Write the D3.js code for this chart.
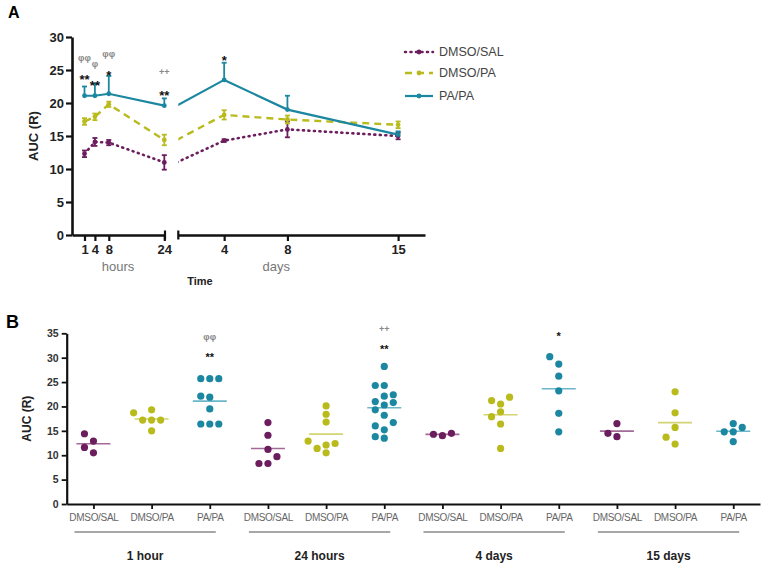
<!DOCTYPE html>
<html><head><meta charset="utf-8">
<script src="https://cdn.jsdelivr.net/npm/d3@7"></script>
<style>body{margin:0;background:#fff;} svg{display:block;font-family:Arial,"Liberation Sans",sans-serif;}</style>
</head><body><svg id="c" width="768" height="571"></svg>
<script>
// ---------- DATA ----------
const seriesNames = ["DMSO/SAL", "DMSO/PA", "PA/PA"];
const hoursPts = [1, 4, 8, 24];
const daysPts = [4, 8, 15];
const hourTickLabels = ["1", "4", "8", "24"];
const dayTickLabels = ["4", "8", "15"];
const yTicksA = [0, 5, 10, 15, 20, 25, 30];
const yTicksB = [0, 5, 10, 15, 20, 25, 30, 35];

// Panel A: mean and SEM per time point
const salHourMean = [12.3, 14.1, 14.0, 11.0];
const salHourSem  = [0.5, 0.6, 0.4, 1.1];
const salDayMean  = [14.3, 16.0, 15.0];
const salDaySem   = [0.2, 1.2, 0.5];
const paHourMean  = [17.2, 17.9, 19.8, 14.4];
const paHourSem   = [0.5, 0.5, 0.4, 0.8];
const paDayMean   = [18.2, 17.5, 16.7];
const paDaySem    = [0.7, 0.6, 0.5];
const papaHourMean = [21.1, 21.1, 21.4, 19.6];
const papaHourSem  = [1.4, 1.8, 2.7, 1.1];
const papaDayMean  = [23.5, 19.0, 15.2];
const papaDaySem   = [2.6, 2.1, 0.5];

// Panel A significance marks (segment, time, value, label, type)
const annotA = [
  ["h", 1, 26.9, "φφ", "phi"], ["h", 1, 24.4, "**", "star"],
  ["h", 4, 25.9, "φ", "phi"],  ["h", 4, 23.4, "**", "star"],
  ["h", 8, 27.5, "φφ", "phi"], ["h", 8, 25.0, "*", "star"],
  ["h", 24, 24.7, "++", "phi"], ["h", 24, 21.9, "**", "star"],
  ["d", 4, 27.3, "*", "star"]
];

// Panel B: individual values
const bCategories = ["DMSO/SAL", "DMSO/PA", "PA/PA", "DMSO/SAL", "DMSO/PA", "PA/PA",
                     "DMSO/SAL", "DMSO/PA", "PA/PA", "DMSO/SAL", "DMSO/PA", "PA/PA"];
const bGroups = ["1 hour", "24 hours", "4 days", "15 days"];
const bValues = [
  [14.4, 12.9, 11.6, 10.5],
  [18.7, 19.3, 17.2, 17.2, 17.2, 15.0],
  [25.7, 25.7, 25.7, 21.9, 22.1, 19.5, 16.4, 16.4, 16.4],
  [16.7, 14.1, 11.2, 9.7, 8.3, 8.3],
  [20.1, 18.4, 16.8, 12.9, 12.1, 12.4, 11.4, 10.5],
  [28.2, 24.3, 24.3, 22.4, 22.1, 21.0, 20.3, 20.8, 19.3, 18.2, 16.7, 16.0, 15.2, 13.5, 13.8],
  [14.5, 14.0, 14.3],
  [21.9, 21.2, 20.5, 18.9, 17.9, 16.4, 11.4],
  [30.2, 28.7, 26.2, 23.2, 18.6, 14.8],
  [16.5, 13.8, 14.5],
  [23.0, 18.7, 15.7, 13.7, 12.3],
  [16.5, 14.8, 14.8, 15.7, 12.8]
];
// Panel B significance marks (category index, value, label, type)
const annotB = [
  [2, 34.2, "φφ", "phi"], [2, 31.0, "**", "star"],
  [5, 35.9, "++", "phi"], [5, 32.5, "**", "star"],
  [8, 35.3, "*", "star"]
];

// ---------- STYLE ----------
const colors = ["#6b1d5e", "#b9bb1d", "#1c87a0"];
const lightColors = ["#a26a96", "#d3d472", "#6bb6c7"];
const dashes = ["1,4.5", "7,5", null];
const widths = [2.6, 2.4, 2.2];

const svg = d3.select("#c");

// ================= PANEL A =================
const yA = d3.scaleLinear().domain([0, 30]).range([235, 37]);
const xH = d3.scaleLinear().domain([-2.6, 24.2]).range([72, 165]);
const xD = d3.scaleLinear().domain([1.1, 16.7]).range([178.3, 425]);

svg.append("text").attr("x", 8).attr("y", 18).attr("font-size", 16).attr("font-weight", "bold").text("A");

const gA = svg.append("g");
// y axis
const yAxA = d3.axisLeft(yA).tickValues(yTicksA).tickSize(6).tickSizeOuter(0);
const gy = gA.append("g").attr("transform", `translate(${xH.range()[0]},0)`).call(yAxA);
gy.select(".domain").attr("stroke-width", 2.6).attr("stroke", "#111");
gy.selectAll(".tick line").attr("stroke-width", 2.2).attr("stroke", "#111");
gy.selectAll(".tick text").attr("font-size", 13).attr("font-weight", "bold").attr("fill", "#222").attr("font-family", "Arial, Liberation Sans").attr("x", -8);

// x axes (two segments)
function xSeg(scale, vals, labels) {
  const ax = d3.axisBottom(scale).tickValues(vals).tickFormat((d, i) => labels[i]).tickSize(6).tickSizeOuter(0);
  const g = gA.append("g").attr("transform", `translate(0,${yA(0)})`).call(ax);
  g.select(".domain").attr("stroke-width", 2.6).attr("stroke", "#111");
  g.selectAll(".tick line").attr("stroke-width", 2.2).attr("stroke", "#111");
  g.selectAll(".tick text").attr("font-size", 13).attr("font-weight", "bold").attr("fill", "#222").attr("font-family", "Arial, Liberation Sans").attr("dy", "0.8em");
  return g;
}
xSeg(xH, hoursPts, hourTickLabels);
xSeg(xD, daysPts, dayTickLabels);
// break caps
[[xH.range()[1]], [xD.range()[0]]].forEach(([x]) => {
  gA.append("line").attr("x1", x).attr("x2", x).attr("y1", yA(0) - 4.5).attr("y2", yA(0) + 4.5)
    .attr("stroke", "#111").attr("stroke-width", 2.2);
});

gA.append("text").attr("x", 118).attr("y", 271).attr("text-anchor", "middle")
  .attr("font-size", 13).attr("fill", "#777").text("hours");
gA.append("text").attr("x", xD(7.3)).attr("y", 271).attr("text-anchor", "middle")
  .attr("font-size", 13).attr("fill", "#777").text("days");
gA.append("text").attr("x", 200).attr("y", 285).attr("text-anchor", "middle")
  .attr("font-size", 11).attr("font-weight", "bold").attr("fill", "#222").text("Time");
gA.append("text").attr("transform", `translate(38,${yA(15)}) rotate(-90)`).attr("text-anchor", "middle")
  .attr("font-size", 13).attr("font-weight", "bold").attr("fill", "#222").text("AUC (R)");

const seriesA = [
  { hm: salHourMean, hs: salHourSem, dm: salDayMean, ds: salDaySem, up: false },
  { hm: paHourMean, hs: paHourSem, dm: paDayMean, ds: paDaySem, up: false },
  { hm: papaHourMean, hs: papaHourSem, dm: papaDayMean, ds: papaDaySem, up: true }
];

svg.append("defs").append("clipPath").attr("id", "clipD")
  .append("rect").attr("x", xD.range()[0]).attr("y", 0).attr("width", 300).attr("height", 300);

seriesA.forEach((s, si) => {
  const c = colors[si];
  const hPts = hoursPts.map((t, i) => ({ x: xH(t), v: s.hm[i], e: s.hs[i] }));
  // day segment continues from the 24 h (= day 1) value
  const dLine = [{ x: xD(1), v: s.hm[3] }].concat(daysPts.map((t, i) => ({ x: xD(t), v: s.dm[i], e: s.ds[i] })));
  const dPts = dLine.slice(1);
  const line = d3.line().x(d => d.x).y(d => yA(d.v));
  const g = gA.append("g");
  const styleLine = sel => sel.attr("fill", "none").attr("stroke", c).attr("stroke-width", widths[si])
    .attr("stroke-dasharray", dashes[si]).attr("stroke-linecap", si === 0 ? "round" : "butt");
  g.append("path").datum(hPts).attr("d", line).call(styleLine);
  g.append("path").datum(dLine).attr("d", line).attr("clip-path", "url(#clipD)").call(styleLine);
  const all = hPts.concat(dPts);
  // error bars
  all.forEach(d => {
    const top = yA(d.v + d.e), bot = s.up ? yA(d.v) : yA(d.v - d.e);
    g.append("line").attr("x1", d.x).attr("x2", d.x).attr("y1", top).attr("y2", bot).attr("stroke", c).attr("stroke-width", 1.8);
    g.append("line").attr("x1", d.x - 2.5).attr("x2", d.x + 2.5).attr("y1", top).attr("y2", top).attr("stroke", c).attr("stroke-width", 1.8);
    if (!s.up) g.append("line").attr("x1", d.x - 2.5).attr("x2", d.x + 2.5).attr("y1", bot).attr("y2", bot).attr("stroke", c).attr("stroke-width", 1.8);
  });
  g.selectAll("circle").data(all).join("circle").attr("cx", d => d.x).attr("cy", d => yA(d.v)).attr("r", 2.4).attr("fill", c);
});

annotA.forEach(([seg, t, v, lab, type]) => {
  const x = seg === "h" ? xH(t) : xD(t);
  gA.append("text").attr("x", x).attr("y", yA(v)).attr("dy", type === "star" ? "0.75em" : "0.35em")
    .attr("text-anchor", "middle").attr("font-size", type === "star" ? 13 : 9)
    .attr("font-weight", "bold").attr("fill", type === "star" ? "#111" : "#888").text(lab);
});

// legend
const legY = [52, 73, 96];
seriesNames.forEach((n, i) => {
  const g = svg.append("g").attr("transform", `translate(405,${legY[i]})`);
  g.append("line").attr("x1", 0).attr("x2", 28).attr("y1", 0).attr("y2", 0).attr("stroke", colors[i])
    .attr("stroke-width", widths[i]).attr("stroke-dasharray", dashes[i]).attr("stroke-linecap", i === 0 ? "round" : "butt");
  g.append("circle").attr("cx", 14).attr("cy", 0).attr("r", 2.4).attr("fill", colors[i]);
  g.append("text").attr("x", 34).attr("y", 0).attr("dy", "0.35em").attr("font-size", 12.5).attr("fill", "#444").text(n);
});

// ================= PANEL B =================
svg.append("text").attr("x", 6).attr("y", 328).attr("font-size", 18).attr("font-weight", "bold").text("B");

const yB = d3.scaleLinear().domain([0, 35]).range([504, 333.3]);
const xB = d3.scalePoint().domain(d3.range(bCategories.length)).range([66.7, 760]).padding(0.46);
const gB = svg.append("g");

const yAxB = d3.axisLeft(yB).tickValues(yTicksB).tickSize(5).tickSizeOuter(0);
const gyB = gB.append("g").attr("transform", "translate(66.7,0)").call(yAxB);
gyB.select(".domain").attr("stroke-width", 2.2).attr("stroke", "#111");
gyB.selectAll(".tick line").attr("stroke-width", 1.8).attr("stroke", "#111");
gyB.selectAll(".tick text").attr("font-size", 10.5).attr("font-weight", "bold").attr("fill", "#333").attr("font-family", "Arial, Liberation Sans").attr("x", -8);

const xAxB = d3.axisBottom(xB).tickFormat(i => bCategories[i]).tickSize(5).tickSizeOuter(0);
const gxB = gB.append("g").attr("transform", `translate(0,${yB(0)})`).call(xAxB);
gxB.select(".domain").attr("stroke-width", 2.2).attr("stroke", "#111");
gxB.selectAll(".tick line").attr("stroke-width", 1.8).attr("stroke", "#111");
gxB.selectAll(".tick text").attr("font-size", 10).attr("fill", "#666").attr("font-family", "Arial, Liberation Sans").attr("dy", "0.9em").attr("letter-spacing", "-0.3");

gB.append("text").attr("transform", `translate(31,${yB(17.5)}) rotate(-90)`).attr("text-anchor", "middle")
  .attr("font-size", 12).attr("font-weight", "bold").attr("fill", "#222").text("AUC (R)");

// dots with a simple non-overlapping swarm layout
const step = 9, minD = 7.4;
bValues.forEach((vals, ci) => {
  const si = ci % 3;
  const cx = xB(ci);
  const placed = [];
  vals.slice().sort((a, b) => a - b).forEach(v => {
    const y = yB(v);
    const cands = [0, -1, 1, -2, 2, -3, 3];
    for (const k of cands) {
      const x = cx + k * step;
      if (placed.every(p => Math.hypot(p.x - x, p.y - y) >= minD)) { placed.push({ x, y }); break; }
    }
  });
  const m = d3.mean(vals);
  gB.append("line").attr("x1", cx - 17).attr("x2", cx + 17).attr("y1", yB(m)).attr("y2", yB(m))
    .attr("stroke", lightColors[si]).attr("stroke-width", 1.6);
  gB.append("g").selectAll("circle").data(placed).join("circle")
    .attr("cx", d => d.x).attr("cy", d => d.y).attr("r", 3.6).attr("fill", colors[si]);
});

annotB.forEach(([ci, v, lab, type]) => {
  gB.append("text").attr("x", xB(ci)).attr("y", yB(v)).attr("dy", type === "star" ? "0.7em" : "0.35em")
    .attr("text-anchor", "middle").attr("font-size", type === "star" ? 11 : 9)
    .attr("font-weight", "bold").attr("fill", type === "star" ? "#111" : "#888").text(lab);
});

// group underlines and labels
bGroups.forEach((gname, gi) => {
  const x1 = xB(gi * 3) - 19, x2 = xB(gi * 3 + 2) + 6;
  gB.append("line").attr("x1", x1).attr("x2", x2).attr("y1", 532).attr("y2", 532).attr("stroke", "#8a8a8a").attr("stroke-width", 1.5);
  gB.append("text").attr("x", (x1 + x2) / 2).attr("y", 560).attr("text-anchor", "middle")
    .attr("font-size", 12).attr("font-weight", "bold").attr("fill", "#222").text(gname);
});
</script></body></html>
